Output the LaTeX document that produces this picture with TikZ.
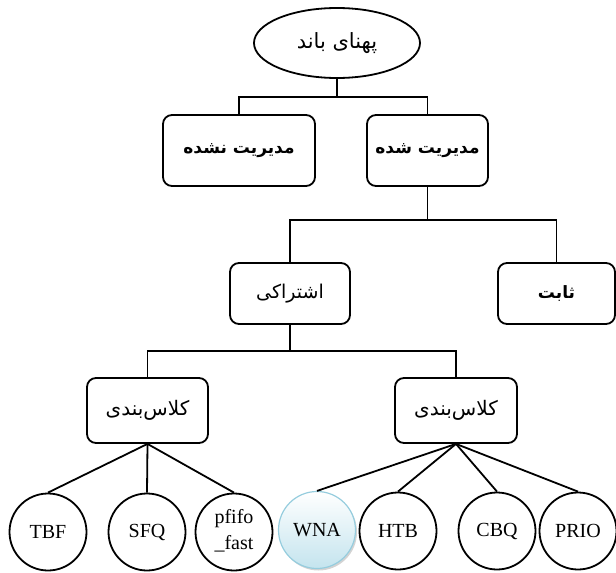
\documentclass[tikz,border=0pt]{standalone}
\usepackage{fontspec}
\setmainfont{Liberation Serif}
\newfontfamily\fa[Script=Arabic]{DejaVu Sans}
\TeXXeTstate=1
\usetikzlibrary{shadows,shapes.geometric}
\definecolor{wnaedge}{RGB}{150,205,222}
\definecolor{wnafill}{RGB}{196,228,238}
\begin{document}
\begin{tikzpicture}[x=1pt,y=-1pt,line width=1.8pt,
  fatext/.style={font=\fa\fontsize{19}{22}\selectfont},
  fabold/.style={font=\fa\bfseries\fontsize{17}{22}\selectfont},
  box/.style={draw,rounded corners=9pt,inner sep=0pt,fatext},
  leaf/.style={draw,circle,minimum size=77pt,inner sep=0pt,align=center,font=\fontsize{20}{24}\selectfont},
  conn/.style={line width=1.8pt}]
\useasboundingbox (0,0) rectangle (616,573);
% root
\node[draw,ellipse,minimum width=166pt,minimum height=70pt,inner sep=0pt,font=\fa\fontsize{21}{24}\selectfont] (root) at (337,43) {\beginR پهنای باند\endR};
% level 1
\node[box,fabold,minimum width=152pt,minimum height=71pt] (unman) at (239,150.5) {\beginR مدیریت نشده\endR};
\node[box,fabold,minimum width=121pt,minimum height=71pt] (man) at (427.5,150.5) {\beginR مدیریت شده\endR};
% level 2
\node[box,minimum width=120pt,minimum height=61pt] (shared) at (290,293.5) {\beginR اشتراکی\endR};
\node[box,fabold,minimum width=117pt,minimum height=61pt] (fixed) at (556.5,293.5) {\beginR ثابت\endR};
% level 3
\node[box,font=\fa\fontsize{20}{22}\selectfont,minimum width=121pt,minimum height=65pt] (clsL) at (147.5,410.5) {\beginR کلاس‌بندی\endR};
\node[box,font=\fa\fontsize{20}{22}\selectfont,minimum width=122pt,minimum height=65pt] (clsR) at (456,410.5) {\beginR کلاس‌بندی\endR};
% leaves
\node[leaf] (tbf) at (48,532) {TBF};
\node[leaf] (sfq) at (147,532) {SFQ};
\node[leaf] (pfifo) at (234,532) {\raisebox{-8pt}{\begin{tabular}{@{}c@{}}pfifo\\[2pt]\_fast\end{tabular}}};
\node[leaf,draw=wnaedge,line width=1.2pt,top color=white,bottom color=wnafill,
      drop shadow={shadow xshift=1.5pt,shadow yshift=-2pt,opacity=0.35}] (wna) at (317,530) {WNA};
\node[leaf] (htb) at (398,531) {HTB};
\node[leaf] (cbq) at (497,531) {CBQ};
\node[leaf] (prio) at (578,531) {PRIO};
% buses
\coordinate (b1) at (337,97);
\coordinate (b2) at (427.5,220);
\coordinate (b3) at (290,351);
\draw[conn] (root.south) -- (b1);
\draw[conn] (unman.north) |- (b1) -| (man.north);
\draw[conn] (man.south) -- (b2);
\draw[conn] (shared.north) |- (b2) -| (fixed.north);
\draw[conn] (shared.south) -- (b3);
\draw[conn] (clsL.north) |- (b3) -| (clsR.north);
% fans
\draw[conn] (clsL.south) -- (tbf.north);
\draw[conn] (clsL.south) -- (sfq.north);
\draw[conn] (clsL.south) -- (pfifo.north);
\draw[conn] (clsR.south) -- (wna.north);
\draw[conn] (clsR.south) -- (htb.north);
\draw[conn] (clsR.south) -- (cbq.north);
\draw[conn] (clsR.south) -- (prio.north);
\end{tikzpicture}
\end{document}
